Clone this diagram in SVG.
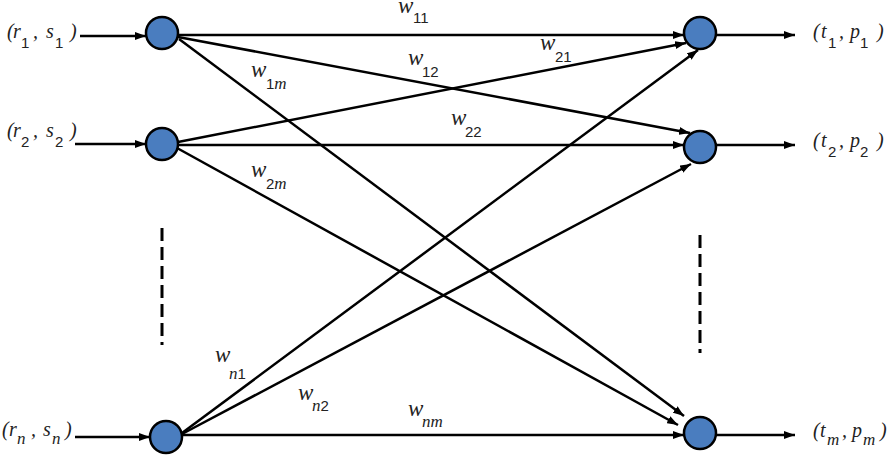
<svg xmlns="http://www.w3.org/2000/svg" width="890" height="468" viewBox="0 0 890 468">
<style>
.e{stroke:#000;stroke-width:2.5;fill:none;marker-end:url(#ah)}
.n{fill:#4a7dbf;stroke:#000;stroke-width:2.5}
.d{stroke:#000;stroke-width:3;stroke-dasharray:13 6;fill:none}
.v{font-family:"Liberation Serif","Times New Roman",serif;font-style:italic;font-size:20px;fill:#222}
.w{font-family:"Liberation Serif","Times New Roman",serif;font-style:italic;font-size:23px;fill:#222}
.s{font-family:"Liberation Sans",Arial,sans-serif;font-style:normal;font-size:15px}
.si{font-family:"Liberation Serif","Times New Roman",serif;font-style:italic;font-size:17px}
</style>
<defs>
<marker id="ah" markerUnits="userSpaceOnUse" markerWidth="12" markerHeight="8" refX="11" refY="4" orient="auto">
<path d="M0,0 L11,4 L0,8 z" fill="#000"/>
</marker>
</defs>
<rect width="890" height="468" fill="#fff"/>
<g id="connectors">
<line class="e" x1="80" y1="36" x2="146" y2="36"/>
<line class="e" x1="75" y1="144" x2="146" y2="144"/>
<line class="e" x1="75" y1="437" x2="150" y2="437"/>
<line class="e" x1="177" y1="35" x2="684" y2="35"/>
<line class="e" x1="178" y1="37" x2="690" y2="133"/>
<line class="e" x1="179" y1="39" x2="684" y2="416"/>
<line class="e" x1="178" y1="142" x2="686" y2="43"/>
<line class="e" x1="178" y1="145" x2="684" y2="145"/>
<line class="e" x1="177" y1="148" x2="678" y2="425"/>
<line class="e" x1="182" y1="433" x2="698" y2="50"/>
<line class="e" x1="182" y1="434" x2="691" y2="164"/>
<line class="e" x1="182" y1="435" x2="684" y2="435"/>
<line class="e" x1="716" y1="35" x2="795" y2="35"/>
<line class="e" x1="716" y1="145" x2="795" y2="145"/>
<line class="e" x1="716" y1="435" x2="795" y2="435"/>
<line class="d" x1="162" y1="228" x2="162" y2="345"/>
<line class="d" x1="700" y1="235" x2="700" y2="353"/>
</g>
<g id="in1"><circle class="n" cx="162" cy="33" r="16"/></g>
<g id="in2"><circle class="n" cx="162" cy="144" r="16"/></g>
<g id="inn"><circle class="n" cx="166" cy="437" r="16"/></g>
<g id="out1"><circle class="n" cx="700" cy="33" r="16"/></g>
<g id="out2"><circle class="n" cx="700" cy="147" r="16"/></g>
<g id="outm"><circle class="n" cx="700" cy="433" r="16"/></g>
<g id="labels">
<text class="v" y="38"><tspan x="7">(</tspan><tspan x="13">r</tspan><tspan class="s" x="21" y="48">1</tspan><tspan x="33" y="38">,</tspan><tspan x="46">s</tspan><tspan class="s" x="55" y="48">1</tspan><tspan x="70" y="38">)</tspan></text>
<text class="v" y="137"><tspan x="7">(</tspan><tspan x="13">r</tspan><tspan class="s" x="21" y="147">2</tspan><tspan x="33" y="137">,</tspan><tspan x="46">s</tspan><tspan class="s" x="55" y="147">2</tspan><tspan x="70" y="137">)</tspan></text>
<text class="v" y="436"><tspan x="2">(</tspan><tspan x="9">r</tspan><tspan class="si" x="17" y="444">n</tspan><tspan x="31" y="436">,</tspan><tspan x="43">s</tspan><tspan class="si" x="52" y="444">n</tspan><tspan x="65" y="436">)</tspan></text>
<text class="v" y="38"><tspan x="813">(</tspan><tspan x="821">t</tspan><tspan class="s" x="828" y="48">1</tspan><tspan x="839" y="38">,</tspan><tspan x="850">p</tspan><tspan class="s" x="860" y="48">1</tspan><tspan x="877" y="38">)</tspan></text>
<text class="v" y="147"><tspan x="813">(</tspan><tspan x="821">t</tspan><tspan class="s" x="828" y="157">2</tspan><tspan x="839" y="147">,</tspan><tspan x="850">p</tspan><tspan class="s" x="860" y="157">2</tspan><tspan x="877" y="147">)</tspan></text>
<text class="v" y="437"><tspan x="813">(</tspan><tspan x="820">t</tspan><tspan class="si" x="827" y="445">m</tspan><tspan x="842" y="437">,</tspan><tspan x="852">p</tspan><tspan class="si" x="863" y="445">m</tspan><tspan x="880" y="437">)</tspan></text>
<text class="w" x="398" y="13">w<tspan class="s" x="413" y="23">11</tspan></text>
<text class="w" x="540" y="50">w<tspan class="s" x="555" y="62">21</tspan></text>
<text class="w" x="408" y="65">w<tspan class="s" x="422" y="77">12</tspan></text>
<text class="w" x="451" y="125">w<tspan class="s" x="465" y="137">22</tspan></text>
<text class="w" x="251" y="77">w<tspan class="s" x="266" y="89">1</tspan><tspan class="si">m</tspan></text>
<text class="w" x="251" y="177">w<tspan class="s" x="266" y="189">2</tspan><tspan class="si">m</tspan></text>
<text class="w" x="215" y="362">w<tspan class="si" x="229" y="379">n</tspan><tspan class="s">1</tspan></text>
<text class="w" x="298" y="400">w<tspan class="si" x="312" y="411">n</tspan><tspan class="s">2</tspan></text>
<text class="w" x="408" y="416">w<tspan class="si" x="422" y="427">nm</tspan></text>
</g>
</svg>
